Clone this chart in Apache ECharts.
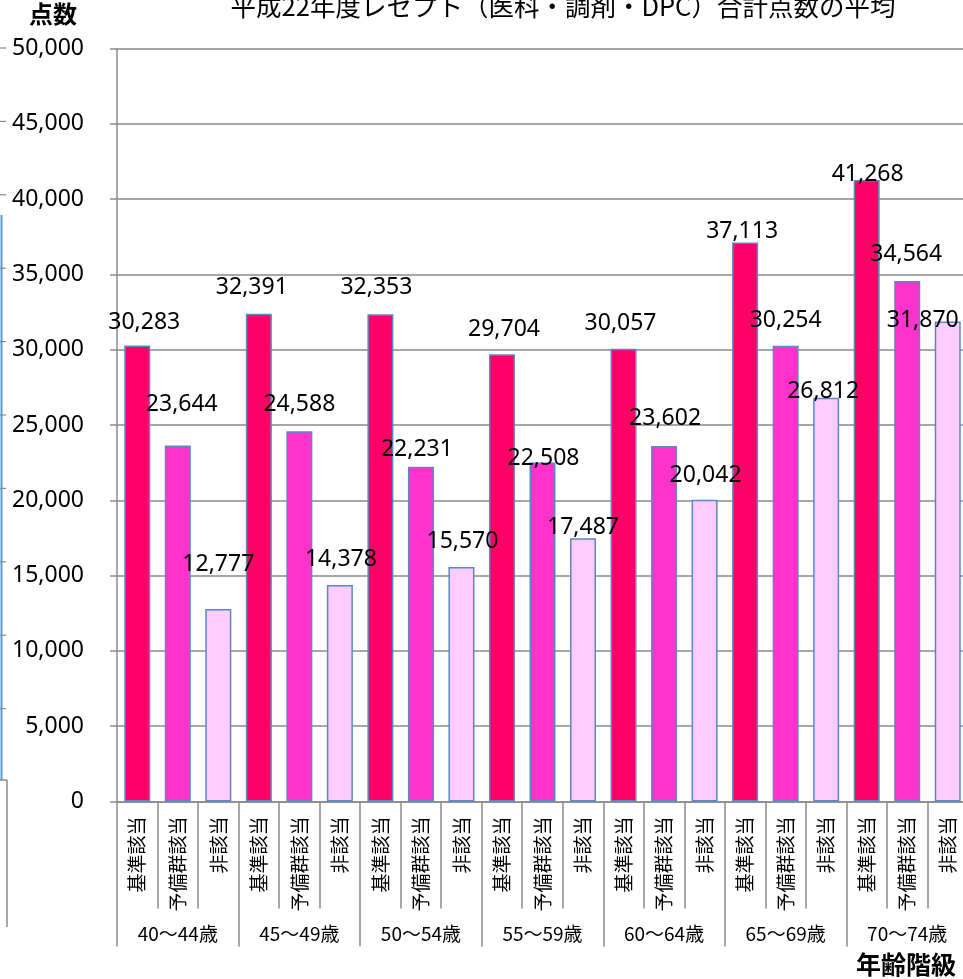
<!DOCTYPE html>
<html><head><meta charset="utf-8">
<script src="https://cdn.jsdelivr.net/npm/echarts@6/dist/echarts.min.js"></script>
<style>html,body{margin:0;padding:0;background:#fff}#c{width:963px;height:979px}</style>
</head><body><div id="c"></div>
<script>
const subCategories = ['基準該当', '予備群該当', '非該当'];
const ageGroups = ['40～44歳', '45～49歳', '50～54歳', '55～59歳', '60～64歳', '65～69歳', '70～74歳'];
const values = [30283, 23644, 12777, 32391, 24588, 14378, 32353, 22231, 15570, 29704, 22508, 17487, 30057, 23602, 20042, 37113, 30254, 26812, 41268, 34564, 31870];
const yTicks = [0, 5000, 10000, 15000, 20000, 25000, 30000, 35000, 40000, 45000, 50000];
const titleText = '平成22年度レセプト（医科・調剤・DPC）合計点数の平均';
const yName = '点数';
const xName = '年齢階級';

// layout-only: label nudges relative to default "top" position
const labelOffsets = [[7,-11],[4,-29],[0,-33],[-7,-14],[0,-15],[1,-14],[-4,-15],[-4,-5],[1,-14],[2,-13],[1,8],[0,1],[-3,-13],[1,-16],[1,-12],[-3,1],[0,-13],[-3,6],[1,6],[-1,-15],[-25,11]];
const barColors = ['#FF0066', '#FF33CC', '#FFCCFF'];

const categories = [];
ageGroups.forEach(() => subCategories.forEach(s => categories.push(s)));

const chart = echarts.init(document.getElementById('c'));
const grey = '#8a8a8a';
const fmt = v => String(v).replace(/\B(?=(\d{3})+(?!\d))/g, ',');

const leftGraphics = [
  {type:'line', shape:{x1:1.5,y1:215,x2:1.5,y2:780}, style:{stroke:'#5b9bd5', lineWidth:2}},
  {type:'line', shape:{x1:0,y1:780,x2:7,y2:780}, style:{stroke:grey, lineWidth:1.5}},
  {type:'line', shape:{x1:7,y1:780,x2:7,y2:927}, style:{stroke:grey, lineWidth:1.5}}
];
for (let k = 0; k < 10; k++) {
  const y = 48 + 73.4 * k;
  leftGraphics.push({type:'line', shape:{x1:0,y1:y,x2:6,y2:y}, style:{stroke:grey, lineWidth:1.2}});
}

chart.setOption({
  animation: false,
  backgroundColor: '#fff',
  grid: {left: 117, right: -5, top: 48.5, bottom: 177.5, containLabel: false, outerBoundsMode: 'none'},
  xAxis: [{
    type: 'category', data: categories, gridIndex: 0, position: 'bottom',
    axisLine: {show: true, lineStyle: {color: grey, width: 1.5}},
    axisTick: {show: true, interval: 0, length: 107, lineStyle: {color: grey, width: 1.5}},
    axisLabel: {interval: 0, rotate: 90, margin: 15, fontSize: 19, color: '#000', fontFamily: '"Noto Sans CJK JP"'}
  }, {
    type: 'category', data: ageGroups, gridIndex: 0, position: 'bottom',
    axisLine: {show: false},
    axisTick: {show: true, interval: 0, length: 145, lineStyle: {color: grey, width: 1.5}},
    axisLabel: {interval: 0, margin: 123, fontSize: 19, color: '#000', fontFamily: '"Noto Sans CJK JP"'}
  }],
  yAxis: {
    type: 'value', min: 0, max: 50000, interval: 5000,
    axisLine: {show: true, lineStyle: {color: grey, width: 1.5}},
    axisTick: {show: true, length: 7, lineStyle: {color: grey, width: 1.5}},
    splitLine: {show: true, lineStyle: {color: grey, width: 1.5}},
    axisLabel: {margin: 33, fontSize: 23, color: '#000', fontFamily: '"Noto Sans"',
      formatter: v => yTicks.includes(v) ? fmt(v) : ''}
  },
  series: [{
    type: 'bar', xAxisIndex: 0, yAxisIndex: 0, barWidth: 26,
    data: values.map((v, i) => ({
      value: v,
      itemStyle: {color: barColors[i % 3], borderColor: '#5b87c5', borderWidth: 1.5},
      label: {offset: labelOffsets[i]}
    })),
    label: {show: true, position: 'top', distance: 0, fontSize: 23, lineHeight: 24, color: '#000',
      fontFamily: '"Noto Sans"', formatter: p => fmt(p.value)}
  }],
  graphic: [
    {type:'text', x: 563, y: 6, style:{text: titleText, fontSize: 25.5, fontFamily:'"Noto Sans CJK JP"', fill:'#000', textAlign:'center', textVerticalAlign:'middle'}},
    {type:'text', x: 53, y: 14, style:{text: yName, fontSize: 24, fontWeight:'bold', fontFamily:'"Noto Sans CJK JP"', fill:'#000', textAlign:'center', textVerticalAlign:'middle'}},
    {type:'text', x: 906, y: 964, style:{text: xName, fontSize: 25, fontWeight:'bold', fontFamily:'"Noto Sans CJK JP"', fill:'#000', textAlign:'center', textVerticalAlign:'middle'}}
  ].concat(leftGraphics)
});
</script></body></html>
